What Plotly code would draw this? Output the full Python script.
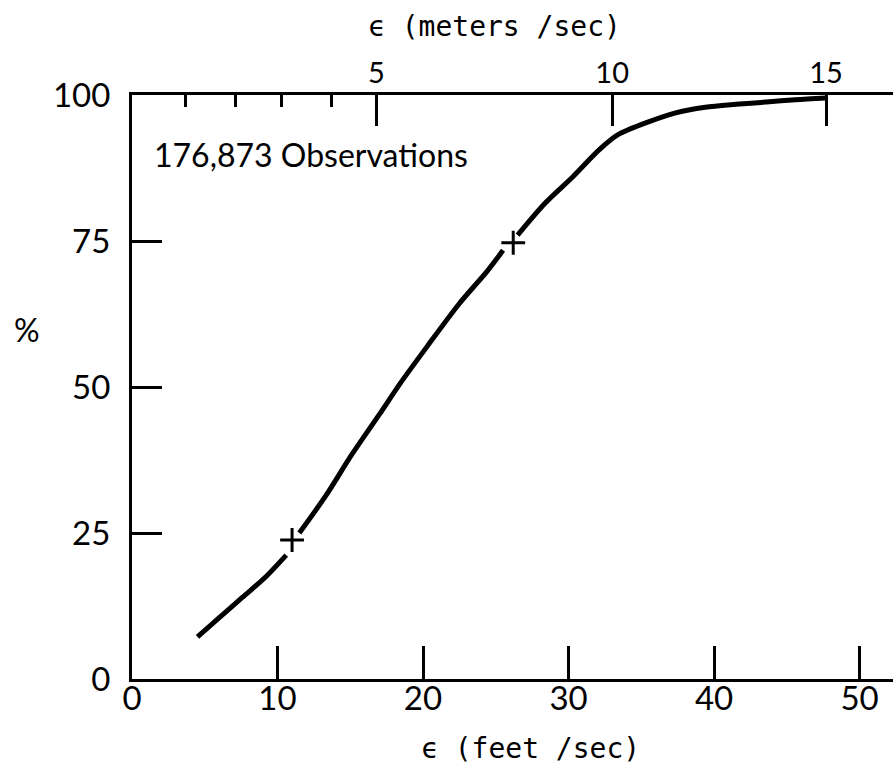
import plotly.graph_objects as go

# ---- data ----
# cumulative distribution, feet/sec vs percent; None = pen gap around the quartile marks
curve_ft = [4.5, 6.0, 7.6, 9.2, 10.6, None,
            11.5, 13.3, 15.1, 17.0, 18.4, 20.3, 22.5, 24.4, 25.5, None,
            26.5, 28.4, 30.3, 32.1, 33.4, 35.5, 37.3, 39.4, 41.5, 43.6, 45.6, 47.7]
curve_pct = [7.2, 10.5, 14.0, 17.5, 21.2, None,
             25.0, 31.3, 38.4, 45.3, 50.5, 57.0, 64.3, 69.8, 73.4, None,
             76.0, 81.5, 86.0, 90.6, 93.2, 95.4, 96.9, 97.9, 98.4, 98.8, 99.2, 99.5]
quart_ft = [11.0, 26.2]
quart_pct = [23.8, 74.7]

bottom_ticks = [0, 10, 20, 30, 40, 50]
left_ticks = [0, 25, 50, 75, 100]
top_major_pos = [16.8, 33.0, 47.7]      # positions (ft/sec scale) of the m/sec ticks
top_major_text = ["5", "10", "15"]
top_minor_pos = [3.7, 7.1, 10.3, 13.7]

FONT = "Lato"
TFONT = "DejaVu Sans Mono"
X_MAX = 52.3

fig = go.Figure()
fig.add_trace(go.Scatter(x=curve_ft, y=curve_pct, mode="lines",
                         line=dict(color="black", width=5, shape="spline", smoothing=0.8),
                         connectgaps=False, hoverinfo="skip", showlegend=False))
fig.add_trace(go.Scatter(x=quart_ft, y=quart_pct, mode="markers",
                         marker=dict(symbol="cross-thin", size=17, color="black",
                                     line=dict(color="black", width=3)),
                         showlegend=False))
fig.add_trace(go.Scatter(x=[0], y=[0], xaxis="x2", mode="markers",
                         marker=dict(opacity=0), showlegend=False, hoverinfo="skip"))

W, H = 893, 767
L, R, T, B = 132, 0, 95, 88
pw, ph = W - L - R, H - T - B

def px(xp):
    return (xp - L) / pw

def py(yp):
    return (H - B - yp) / ph

fig.update_layout(
    width=W, height=H,
    margin=dict(l=L, r=R, t=T, b=B),
    paper_bgcolor="white", plot_bgcolor="white",
    font=dict(family=FONT, color="black"),
    xaxis=dict(range=[0, X_MAX], tickvals=bottom_ticks, ticks="inside", ticklen=33,
               tickwidth=2.5, tickcolor="black", showline=True, linewidth=3,
               linecolor="black", showgrid=False, zeroline=False,
               tickfont=dict(size=33, family=FONT), ticklabelstandoff=-12),
    xaxis2=dict(range=[0, X_MAX], overlaying="x", side="top", anchor="y",
                tickvals=top_major_pos, ticktext=top_major_text, ticks="inside",
                ticklen=31, tickwidth=2.5, tickcolor="black", showline=True,
                linewidth=3, linecolor="black", showgrid=False, zeroline=False,
                tickfont=dict(size=29, family=FONT), ticklabelstandoff=-3,
                minor=dict(tickvals=top_minor_pos, ticks="inside", ticklen=12,
                           tickwidth=2.5, tickcolor="black", showgrid=False)),
    yaxis=dict(range=[0, 100], tickvals=left_ticks, ticks="inside", ticklen=30,
               tickwidth=2.5, tickcolor="black", showline=True, linewidth=3,
               linecolor="black", showgrid=False, zeroline=False,
               tickfont=dict(size=33, family=FONT), ticklabelstandoff=12),
    annotations=[
        dict(text="ϵ (feet /sec)", xref="paper", yref="paper", x=px(530), y=py(748),
             showarrow=False, font=dict(size=28, family=TFONT), xanchor="center", yanchor="middle"),
        dict(text="ϵ (meters /sec)", xref="paper", yref="paper", x=px(494), y=py(27),
             showarrow=False, font=dict(size=28, family=TFONT), xanchor="center", yanchor="middle"),
        dict(text="%", xref="paper", yref="paper", x=px(27), y=py(329),
             showarrow=False, font=dict(size=32, family=FONT), xanchor="center", yanchor="middle"),
        dict(text="176,873 Observations", xref="paper", yref="paper", x=px(152), y=py(155),
             showarrow=False, font=dict(size=32, family=FONT), xanchor="left", yanchor="middle"),
    ],
)

fig.write_html("out.html")
